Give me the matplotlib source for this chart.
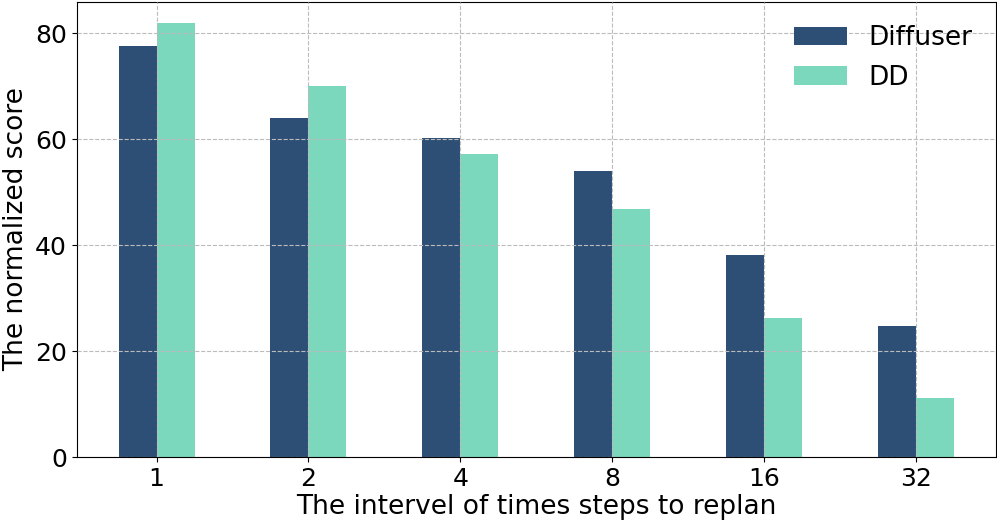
import numpy as np
import matplotlib
matplotlib.use("Agg")
import matplotlib.pyplot as plt

intervals = ["1", "2", "4", "8", "16", "32"]
diffuser = [77.6, 64.1, 60.3, 54.0, 38.2, 24.8]
dd = [81.9, 70.1, 57.3, 46.8, 26.2, 11.1]

x = np.arange(len(intervals))
width = 0.25

fig, ax = plt.subplots(figsize=(9.97, 5.2), dpi=100)
ax.bar(x - width / 2, diffuser, width, color="#2e4f75", label="Diffuser", zorder=2)
ax.bar(x + width / 2, dd, width, color="#7bd8bd", label="DD", zorder=2)

ax.set_xticks(x)
ax.set_xticklabels(intervals)
ax.set_yticks([0, 20, 40, 60, 80])
ax.tick_params(labelsize=18)
ax.set_xlabel("The intervel of times steps to replan", fontsize=19, labelpad=2)
ax.set_ylabel("The normalized score", fontsize=19)
ax.grid(True, linestyle="--", color="#bbbbbb", linewidth=0.8, zorder=3)
ax.set_axisbelow(False)
ax.legend(fontsize=19, frameon=False, loc="upper right")

plt.subplots_adjust(left=0.077, right=0.999, top=0.997, bottom=0.121)
plt.savefig("out.png", dpi=100)
